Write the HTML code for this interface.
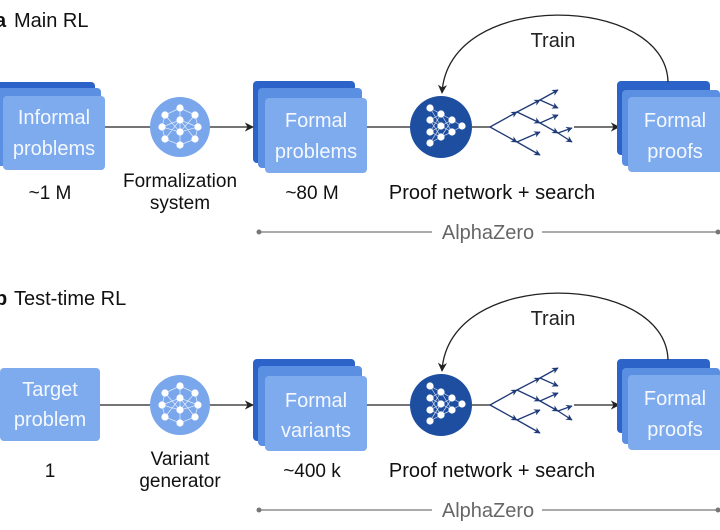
<!DOCTYPE html>
<html><head><meta charset="utf-8"><style>
html,body{margin:0;padding:0;background:#fff;width:720px;height:530px;overflow:hidden}
svg{display:block}
text{font-family:"Liberation Sans",sans-serif}
</style></head><body>
<svg width="720" height="530" viewBox="0 0 720 530" xmlns="http://www.w3.org/2000/svg">
<defs>
<marker id="ah" viewBox="0 0 10 10" refX="9" refY="5" markerWidth="7" markerHeight="7" orient="auto"><path d="M0,0 L10,5 L0,10 L3,5 z" fill="#222"/></marker>
<marker id="ta" viewBox="0 0 10 10" refX="9" refY="5" markerWidth="5" markerHeight="5" orient="auto"><path d="M0,0 L10,5 L0,10 L3,5 z" fill="#1f3a78"/></marker>
<g id="net">
<circle cx="441" cy="127" r="31" fill="#1d4ea0"/>
<g stroke="#fff" stroke-width="0.7" opacity="0.8" fill="none">
<path d="M430,108 L441,114 L430,120 L441,126 L430,132 L441,137 L430,143 M441,114 L452,120 L441,126 L452,132 L441,137 M452,120 L462,126 L452,132 M430,108 L441,126 M430,120 L441,137 M430,132 L441,114 M430,143 L441,126 M441,114 L452,132 M441,137 L452,120"/>
</g>
<g fill="#fff"><circle cx="430" cy="108" r="3.6"/><circle cx="430" cy="120" r="3.6"/><circle cx="430" cy="132" r="3.6"/><circle cx="430" cy="143" r="3.6"/><circle cx="441" cy="114" r="3.6"/><circle cx="441" cy="126" r="3.6"/><circle cx="441" cy="137" r="3.6"/><circle cx="452" cy="120" r="3.6"/><circle cx="452" cy="132" r="3.6"/><circle cx="462" cy="126" r="3.6"/></g>
</g>
<g id="fnet">
<circle cx="180" cy="127" r="30" fill="#7aa7ec"/>
<g stroke="#fff" stroke-width="0.7" opacity="0.8" fill="none">
<path d="M180,108 L165,115 L162,127 L165,139 L180,145 L195,139 L198,127 L195,115 Z M180,108 L180,120 L180,132 L180,145 M165,115 L180,132 L195,115 M165,139 L180,120 L195,139 M162,127 L180,120 L198,127 L180,132 Z"/>
</g>
<g fill="#fff"><circle cx="180" cy="108" r="3.6"/><circle cx="165" cy="115" r="3.6"/><circle cx="195" cy="115" r="3.6"/><circle cx="180" cy="120" r="3.6"/><circle cx="162" cy="127" r="3.6"/><circle cx="198" cy="127" r="3.6"/><circle cx="180" cy="132" r="3.6"/><circle cx="165" cy="139" r="3.6"/><circle cx="195" cy="139" r="3.6"/><circle cx="180" cy="145" r="3.6"/></g>
</g>
<g id="tree" stroke="#1f3a78" stroke-width="1.3" fill="none">
<path d="M490,127 L517,112" marker-end="url(#ta)"/><path d="M490,127 L517,142" marker-end="url(#ta)"/>
<path d="M517,142 L540,132" marker-end="url(#ta)"/><path d="M517,142 L540,155" marker-end="url(#ta)"/>
<path d="M517,112 L540,100" marker-end="url(#ta)"/><path d="M517,112 L540,123" marker-end="url(#ta)"/>
<path d="M540,100 L558,90" marker-end="url(#ta)"/><path d="M540,100 L558,108" marker-end="url(#ta)"/>
<path d="M540,123 L558,115" marker-end="url(#ta)"/><path d="M540,123 L558,133" marker-end="url(#ta)"/>
<path d="M558,133 L572,128" marker-end="url(#ta)"/><path d="M558,133 L572,142" marker-end="url(#ta)"/>
</g>
<g id="common">
<line x1="367" y1="127" x2="411" y2="127" stroke="#222" stroke-width="1.3"/>
<use href="#net"/>
<use href="#tree"/>
<line x1="472" y1="127" x2="490" y2="127" stroke="#222" stroke-width="1.3"/>
<line x1="574" y1="127" x2="619" y2="127" stroke="#222" stroke-width="1.3" marker-end="url(#ah)"/>
<rect x="617" y="81" width="93" height="74" rx="4" fill="#2c63c9"/>
<rect x="622" y="90" width="98" height="76" rx="4" fill="#5a8fe2"/>
<rect x="628" y="97" width="96" height="75" rx="4" fill="#7eaaee"/>
<text x="675" y="127" font-size="20" fill="#f4f8ff" text-anchor="middle">Formal</text>
<text x="675" y="158" font-size="20" fill="#f4f8ff" text-anchor="middle">proofs</text>
<path d="M668,82 C666,-6 448,-12 442,93" stroke="#222" stroke-width="1.3" fill="none" marker-end="url(#ah)"/>
<text x="553" y="47" font-size="20" fill="#222" text-anchor="middle">Train</text>
<text x="492" y="199" font-size="20" fill="#111" text-anchor="middle">Proof network + search</text>
<line x1="259" y1="232" x2="432" y2="232" stroke="#777" stroke-width="1.3"/>
<line x1="542" y1="232" x2="718" y2="232" stroke="#777" stroke-width="1.3"/>
<circle cx="259" cy="232" r="2.5" fill="#777"/><circle cx="718" cy="232" r="2.5" fill="#777"/>
<text x="488" y="239" font-size="20" fill="#666" text-anchor="middle">AlphaZero</text>
<use href="#fnet"/>
<rect x="253" y="81" width="102" height="82" rx="4" fill="#2c63c9"/>
<rect x="258" y="88" width="104" height="80" rx="4" fill="#5a8fe2"/>
<rect x="265" y="98" width="102" height="75" rx="4" fill="#7eaaee"/>
<line x1="210" y1="127" x2="253" y2="127" stroke="#222" stroke-width="1.3" marker-end="url(#ah)"/>
</g>
</defs>

<!-- a -->
<text x="-5" y="27" font-size="20" font-weight="bold" fill="#111">a</text>
<text x="14" y="27" font-size="20" fill="#111">Main RL</text>
<line x1="104" y1="127" x2="150" y2="127" stroke="#222" stroke-width="1.3"/>
<rect x="-5" y="82" width="100" height="78" rx="4" fill="#2c63c9"/>
<rect x="-3" y="88" width="104" height="78" rx="4" fill="#5a8fe2"/>
<rect x="3" y="96" width="102" height="74" rx="4" fill="#7eaaee"/>
<text x="54" y="124" font-size="20" fill="#f4f8ff" text-anchor="middle">Informal</text>
<text x="54" y="155" font-size="20" fill="#f4f8ff" text-anchor="middle">problems</text>
<text x="50" y="199" font-size="19" fill="#111" text-anchor="middle">~1 M</text>
<use href="#common"/>
<text x="180" y="187" font-size="19" fill="#111" text-anchor="middle">Formalization</text>
<text x="180" y="209" font-size="19" fill="#111" text-anchor="middle">system</text>
<text x="316" y="127" font-size="20" fill="#f4f8ff" text-anchor="middle">Formal</text>
<text x="316" y="158" font-size="20" fill="#f4f8ff" text-anchor="middle">problems</text>
<text x="312" y="199" font-size="19" fill="#111" text-anchor="middle">~80 M</text>

<!-- b -->
<text x="-5" y="305" font-size="20" font-weight="bold" fill="#111">b</text>
<text x="14" y="305" font-size="20" fill="#111">Test-time RL</text>
<g transform="translate(0,278)">
<line x1="100" y1="127" x2="150" y2="127" stroke="#222" stroke-width="1.3"/>
<rect x="0" y="90" width="100" height="73" rx="4" fill="#7eaaee"/>
<text x="50" y="118" font-size="20" fill="#f4f8ff" text-anchor="middle">Target</text>
<text x="50" y="148" font-size="20" fill="#f4f8ff" text-anchor="middle">problem</text>
<text x="50" y="199" font-size="19" fill="#111" text-anchor="middle">1</text>
<use href="#common"/>
<text x="180" y="187" font-size="19" fill="#111" text-anchor="middle">Variant</text>
<text x="180" y="209" font-size="19" fill="#111" text-anchor="middle">generator</text>
<text x="316" y="129" font-size="20" fill="#f4f8ff" text-anchor="middle">Formal</text>
<text x="316" y="159" font-size="20" fill="#f4f8ff" text-anchor="middle">variants</text>
<text x="312" y="199" font-size="19" fill="#111" text-anchor="middle">~400 k</text>
</g>
</svg>
</body></html>
